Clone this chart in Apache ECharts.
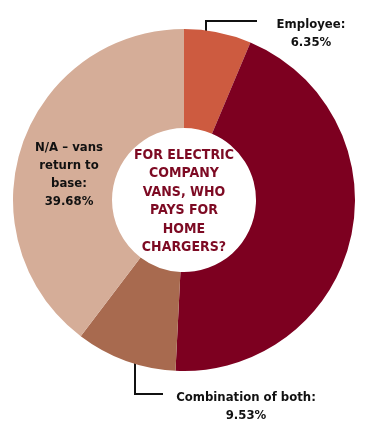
<!DOCTYPE html>
<html>
<head>
<meta charset="utf-8">
<script src="https://cdn.jsdelivr.net/npm/echarts@6/dist/echarts.min.js"></script>
<style>
  html, body { margin: 0; padding: 0; background: #fff; }
  #main { width: 377px; height: 431px; }
</style>
</head>
<body>
<div id="main"></div>
<script>
// slices, clockwise from 12 o'clock
const categories = ['Employee:', 'Employer:', 'Combination of both:', 'N/A \u2013 vans\nreturn to\nbase:'];
const values = [6.35, 44.44, 9.53, 39.68];
const sliceColors = ['#cd5b40', '#7d0020', '#a86a4f', '#d5ad98'];
const showLabel = [true, false, true, true];
const centerTitle = 'FOR ELECTRIC\nCOMPANY\nVANS, WHO\nPAYS FOR\nHOME\nCHARGERS?';

const FONT = '"DejaVu Sans Condensed", "DejaVu Sans", sans-serif';

// where each label sits and how its elbow line runs
const labelPlace = [
  { x: 311, y: 34, line: [[206, 60], [206, 21], [257, 21]] },
  null,
  { x: 246, y: 407, line: [[135, 343], [135, 394], [163, 394]] },
  { x: 69, y: 175, line: null }
];

const chart = echarts.init(document.getElementById('main'));

const data = categories.map((name, i) => ({
  name: name,
  value: values[i],
  itemStyle: { color: sliceColors[i] },
  label: {
    show: showLabel[i],
    position: labelPlace[i] && labelPlace[i].line ? 'outside' : 'inside'
  },
  labelLine: { show: !!(labelPlace[i] && labelPlace[i].line) }
}));

chart.setOption({
  animation: false,
  graphic: [{
    type: 'text',
    x: 184,
    y: 146,
    z: 10,
    style: {
      text: centerTitle,
      font: 'bold 14px ' + FONT,
      fill: '#7d0a23',
      align: 'center',
      verticalAlign: 'top',
      lineHeight: 18.5
    }
  }],
  series: [{
    type: 'pie',
    center: [184, 200],
    radius: [72, 171],
    startAngle: 90,
    clockwise: true,
    silent: true,
    data: data,
    label: {
      formatter: p => p.name + '\n' + p.value.toFixed(2) + '%',
      fontFamily: FONT,
      fontWeight: 'bold',
      fontSize: 13,
      lineHeight: 18,
      color: '#111',
      align: 'center',
      overflow: 'none'
    },
    labelLine: {
      lineStyle: { color: '#111', width: 2 }
    },
    labelLayout: function (params) {
      const p = labelPlace[params.dataIndex];
      if (!p) return {};
      const out = { x: p.x, y: p.y, align: 'center', verticalAlign: 'middle' };
      if (p.line) out.labelLinePoints = p.line;
      return out;
    }
  }]
});
</script>
</body>
</html>
